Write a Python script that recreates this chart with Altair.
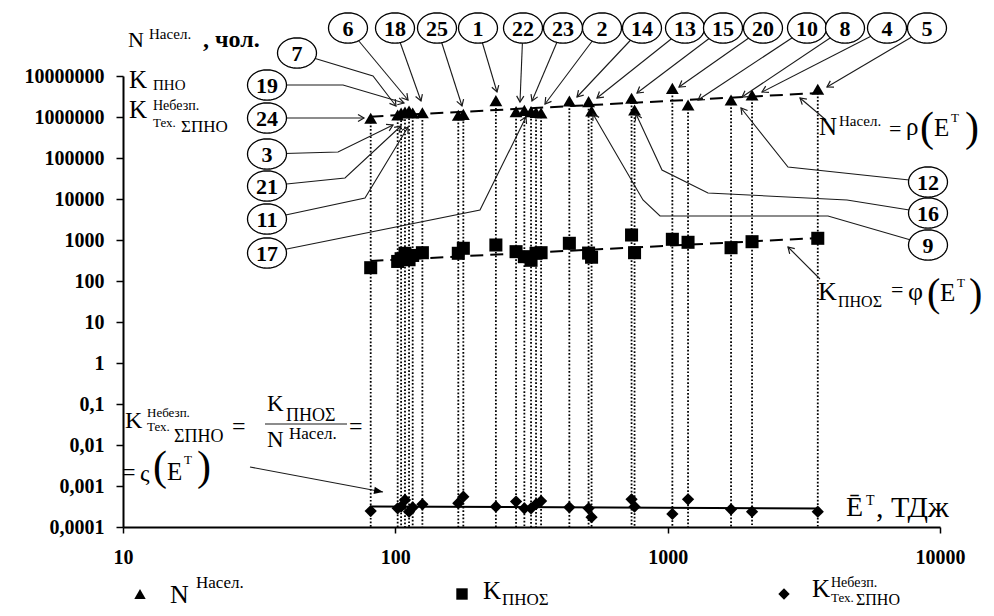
import math
import altair as alt
import pandas as pd

# ---------------- data ----------------
E = [81.2, 102, 105, 108.5, 112.3, 115.8, 125.7, 170.3, 177.7, 234, 277.5, 297.7, 315,
     328.6, 342.9, 435.5, 512.4, 525.5, 736.9, 755.8, 1040.5, 1188, 1709, 2041, 3558]
N = [930000, 1120000, 1250000, 1320000, 1400000, 1250000, 1270000, 1100000, 1160000,
     2500000, 1350000, 1450000, 1350000, 1300000, 1250000, 2450000, 2370000, 1400000,
     2860000, 1480000, 5000000, 1960000, 2600000, 3440000, 4740000]
K = [211, 300, 350, 474, 330, 420, 490, 474, 628, 755, 519, 392, 320, 474, 490, 831,
     480, 380, 1324, 490, 1040, 879, 649, 909, 1100]
R = [0.000245, 0.000286, 0.000313, 0.000456, 0.000236, 0.0003, 0.000358, 0.00038,
     0.00055, 0.000313, 0.000417, 0.000286, 0.000286, 0.00036, 0.00043, 0.000302,
     0.000286, 0.000173, 0.000474, 0.000313, 0.000208, 0.000474, 0.00027, 0.000236,
     0.000236]

TREND_E = [81, 3600]
TREND_N = [1.02e6, 3.85e6]
TREND_K = [308, 1120]
TREND_R = [3.16e-4, 2.84e-4]

X_TICKS = [10, 100, 1000, 10000]
Y_TICKS = [1e-4, 1e-3, 1e-2, 1e-1, 1, 10, 100, 1000, 1e4, 1e5, 1e6, 1e7]

# ---------------- annotation layout (page pixels) ----------------
X0, Y0 = 123, 76          # plot origin on the page
W, H = 817, 451           # plot area

LEADERS = {
    "6": [(348, 28), (408, 100)],
    "18": [(395, 28), (421, 101)],
    "25": [(437, 28), (462, 106)],
    "1": [(478, 28), (497, 92)],
    "22": [(523, 28), (520, 102)],
    "23": [(563, 28), (532, 101)],
    "2": [(602, 28), (545, 104)],
    "14": [(642, 28), (577, 97)],
    "13": [(685, 28), (597, 98)],
    "15": [(723, 28), (637, 93)],
    "20": [(763, 28), (679, 87)],
    "10": [(807, 28), (698, 100)],
    "8": [(845, 28), (742, 97)],
    "4": [(887, 28), (762, 92)],
    "5": [(927, 28), (827, 87)],
    "7": [(297, 53), (373, 76), (396, 106)],
    "19": [(267, 85), (343, 85), (404, 103)],
    "24": [(267, 118), (364, 118)],
    "3": [(267, 154), (338, 152), (393, 125)],
    "21": [(267, 186), (345, 178), (401, 126)],
    "11": [(267, 219), (365, 198), (408, 127)],
    "17": [(267, 253), (480, 210), (526, 117)],
    "12": [(928, 182), (788, 167), (741, 108)],
    "16": [(928, 213), (847, 200), (708, 193), (662, 170), (636, 114)],
    "9": [(928, 245), (828, 216), (660, 216), (643, 200), (593, 114)],
}
ARROWS_V = [[(826, 120), (800, 98)], [(820, 279), (788, 247)]]
ARROWS_F = [[(250, 467), (383, 492)]]
BARS = [[(265, 424), (347, 424)]]

TEXTS = [  # text, x, baseline y, font size
    ("N", 128, 47, 22), ("Насел.", 149, 39, 15),
    ("K", 129, 88, 25), ("ПНО", 153, 90, 15),
    ("K", 129, 118, 25), ("Небезп.", 153, 110, 14), ("Тех.", 153, 127, 13), ("ΣПНО", 181, 132, 17),
    ("K", 125, 428, 24), ("Небезп.", 147, 417, 13), ("Тех.", 147, 431, 13), ("ΣПНО", 174, 442, 18),
    ("=", 232, 434, 24), ("K", 267, 411, 23), ("ПНОΣ", 286, 421, 18),
    ("N", 267, 447, 23), ("Насел.", 289, 439, 17), ("=", 349, 434, 24),
    ("=", 122, 480, 24), ("ς", 140, 481, 24), ("(", 153, 480, 42), ("E", 167, 480, 25),
    ("T", 184, 464, 13), (")", 197, 480, 42),
    ("N", 819, 135, 25), ("Насел.", 839, 126, 15), ("=", 889, 136, 22), ("ρ", 906, 135, 25),
    ("(", 920, 141, 42), ("E", 934, 136, 25), ("T", 951, 122, 13), (")", 965, 141, 42),
    ("K", 818, 300, 26), ("ПНОΣ", 838, 307, 16), ("=", 891, 297, 22), ("φ", 908, 300, 26),
    ("(", 927, 306, 40), ("E", 940, 301, 25), ("T", 957, 287, 13), (")", 969, 306, 40),
    ("Ē", 846, 516, 28), ("T", 866, 505, 14), (", ТДж", 876, 517, 30),
    ("N", 170, 603, 26), ("Насел.", 196, 588, 17),
    ("K", 483, 599, 25), ("ПНОΣ", 502, 605, 17),
    ("K", 812, 597, 25), ("Небезп.", 831, 587, 14), ("Тех.", 831, 602, 13), ("ΣПНО", 856, 605, 16),
]
TEXTS_BOLD = [(", чол.", 203, 47, 24)]
LEGEND_SYMS = [("triangle-up", 140, 594), ("square", 462, 594), ("diamond", 784, 594)]

FONT = "'Liberation Serif', 'Times New Roman', Times, serif"

# ---------------- scales / axes ----------------
xs = alt.Scale(type="log", domain=[10, 10000], nice=False)
ys = alt.Scale(type="log", domain=[1e-4, 1e7], nice=False)
pxs = alt.Scale(domain=[0, W], nice=False, zero=False)
pys = alt.Scale(domain=[H, 0], nice=False, zero=False)

common = dict(labelFont=FONT, labelFontWeight="bold", labelFontSize=20, labelColor="black",
              tickColor="black", tickWidth=1.5, domainColor="black", domainWidth=2,
              grid=False, title=None, labelOverlap=False, labelFlush=False)
xaxis = alt.Axis(values=X_TICKS, labelExpr="format(datum.value, 'd')", tickSize=6,
                 labelPadding=14, **common)
yaxis = alt.Axis(values=Y_TICKS, labelExpr="replace(format(datum.value, '~f'), '.', ',')",
                 tickSize=7, labelPadding=12, **common)

df = pd.DataFrame({"E": E, "N": N, "K": K, "R": R})
X_ = alt.X("E:Q", scale=xs, axis=xaxis)

rules = alt.Chart(df).mark_rule(color="black", strokeWidth=1.8, strokeDash=[1.7, 1.9]).encode(
    x=X_, y=alt.Y("N:Q", scale=ys, axis=yaxis), y2=alt.datum(1e-4))


def trend(vals, dash):
    d = pd.DataFrame({"E": TREND_E, "V": vals})
    kw = dict(color="black", strokeWidth=2)
    if dash:
        kw["strokeDash"] = dash
    return alt.Chart(d).mark_line(**kw).encode(x=X_, y=alt.Y("V:Q", scale=ys, axis=yaxis))


tN = trend(TREND_N, [13, 7])
tK = trend(TREND_K, [13, 7])
tR = trend(TREND_R, None)

tri = alt.Chart(df).mark_point(shape="triangle-up", filled=True, color="black", size=165,
                               opacity=1).encode(x=X_, y=alt.Y("N:Q", scale=ys, axis=yaxis))
sq = alt.Chart(df).mark_point(shape="square", filled=True, color="black", size=170,
                              opacity=1).encode(x=X_, y=alt.Y("K:Q", scale=ys, axis=yaxis))
dia = alt.Chart(df).mark_point(shape="diamond", filled=True, color="black", size=150,
                               opacity=1).encode(x=X_, y=alt.Y("R:Q", scale=ys, axis=yaxis))

data_layer = alt.layer(rules, tN, tK, tR, tri, sq, dia)

# ---------------- annotations (pixel space) ----------------
PX = alt.X("px:Q", scale=pxs, axis=None)
PY = alt.Y("py:Q", scale=pys, axis=None)

line_rows, head_v, head_f, lab_rows = [], [], [], []


def add_path(pid, pts):
    for i, (x, y) in enumerate(pts):
        line_rows.append({"id": pid, "seq": i, "px": x - X0, "py": y - Y0})


def head_of(pts):
    (x1, y1), (x2, y2) = pts[-2], pts[-1]
    ang = math.degrees(math.atan2(y2 - y1, x2 - x1)) % 360
    return {"px": x2 - X0, "py": y2 - Y0, "ang": ang}


for lab, pts in LEADERS.items():
    add_path("L" + lab, pts)
    head_v.append(head_of(pts))
    lab_rows.append({"lab": lab, "px": pts[0][0] - X0, "py": pts[0][1] - Y0})
for i, pts in enumerate(ARROWS_V):
    add_path("AV%d" % i, pts)
    head_v.append(head_of(pts))
for i, pts in enumerate(ARROWS_F):
    add_path("AF%d" % i, pts)
    head_f.append(head_of(pts))
for i, pts in enumerate(BARS):
    add_path("B%d" % i, pts)

leaders = alt.Chart(pd.DataFrame(line_rows)).mark_line(color="#1a1a1a", strokeWidth=1.1).encode(
    x=PX, y=PY, detail="id:N", order="seq:Q")

hv = alt.Chart(pd.DataFrame(head_v)).mark_point(
    shape="M-1,-0.6L0,0L-1,0.6", filled=False, stroke="#1a1a1a", strokeWidth=1.2, size=144,
    opacity=1).encode(x=PX, y=PY, angle=alt.Angle("ang:Q", scale=None))
hf = alt.Chart(pd.DataFrame(head_f)).mark_point(
    shape="M-1,-0.4L0,0L-1,0.4Z", filled=True, color="black", size=324, opacity=1).encode(
    x=PX, y=PY, angle=alt.Angle("ang:Q", scale=None))

ell_pts = ["%.3f,%.3f" % (math.cos(2 * math.pi * i / 40), 0.78 * math.sin(2 * math.pi * i / 40))
           for i in range(40)]
ELLIPSE = "M" + "L".join(ell_pts) + "Z"
lab_df = pd.DataFrame(lab_rows)
ell = alt.Chart(lab_df).mark_point(shape=ELLIPSE, size=39 * 39, filled=True, fill="white",
                                   stroke="black", strokeWidth=1.3, opacity=1).encode(x=PX, y=PY)
lab_txt = alt.Chart(lab_df).mark_text(font=FONT, fontWeight="bold", fontSize=22, align="center",
                                      baseline="middle", dy=1, color="black").encode(
    x=PX, y=PY, text="lab:N")


def text_layer(items, weight):
    d = pd.DataFrame([{"t": t, "px": x - X0, "py": y - Y0, "fs": s} for t, x, y, s in items])
    return alt.Chart(d).mark_text(font=FONT, fontWeight=weight, align="left",
                                  baseline="alphabetic", color="black").encode(
        x=PX, y=PY, text="t:N", size=alt.Size("fs:Q", scale=None))


txt_n = text_layer(TEXTS, "normal")
txt_b = text_layer(TEXTS_BOLD, "bold")

sym_df = pd.DataFrame([{"sh": s, "px": x - X0, "py": y - Y0} for s, x, y in LEGEND_SYMS])
syms = alt.Chart(sym_df).mark_point(filled=True, color="black", size=130, opacity=1).encode(
    x=PX, y=PY, shape=alt.Shape("sh:N", scale=None))

ann_layer = alt.layer(leaders, hv, hf, ell, lab_txt, txt_n, txt_b, syms)

chart = alt.layer(data_layer, ann_layer).resolve_scale(
    x="independent", y="independent"
).properties(
    width=W, height=H,
    padding={"left": 115, "top": 68, "right": 46, "bottom": 81},
    autosize=alt.AutoSizeParams(type="none"),
    background="white",
).configure_view(stroke=None)

chart.save("out.html", embed_options={"renderer": "svg", "actions": False})
